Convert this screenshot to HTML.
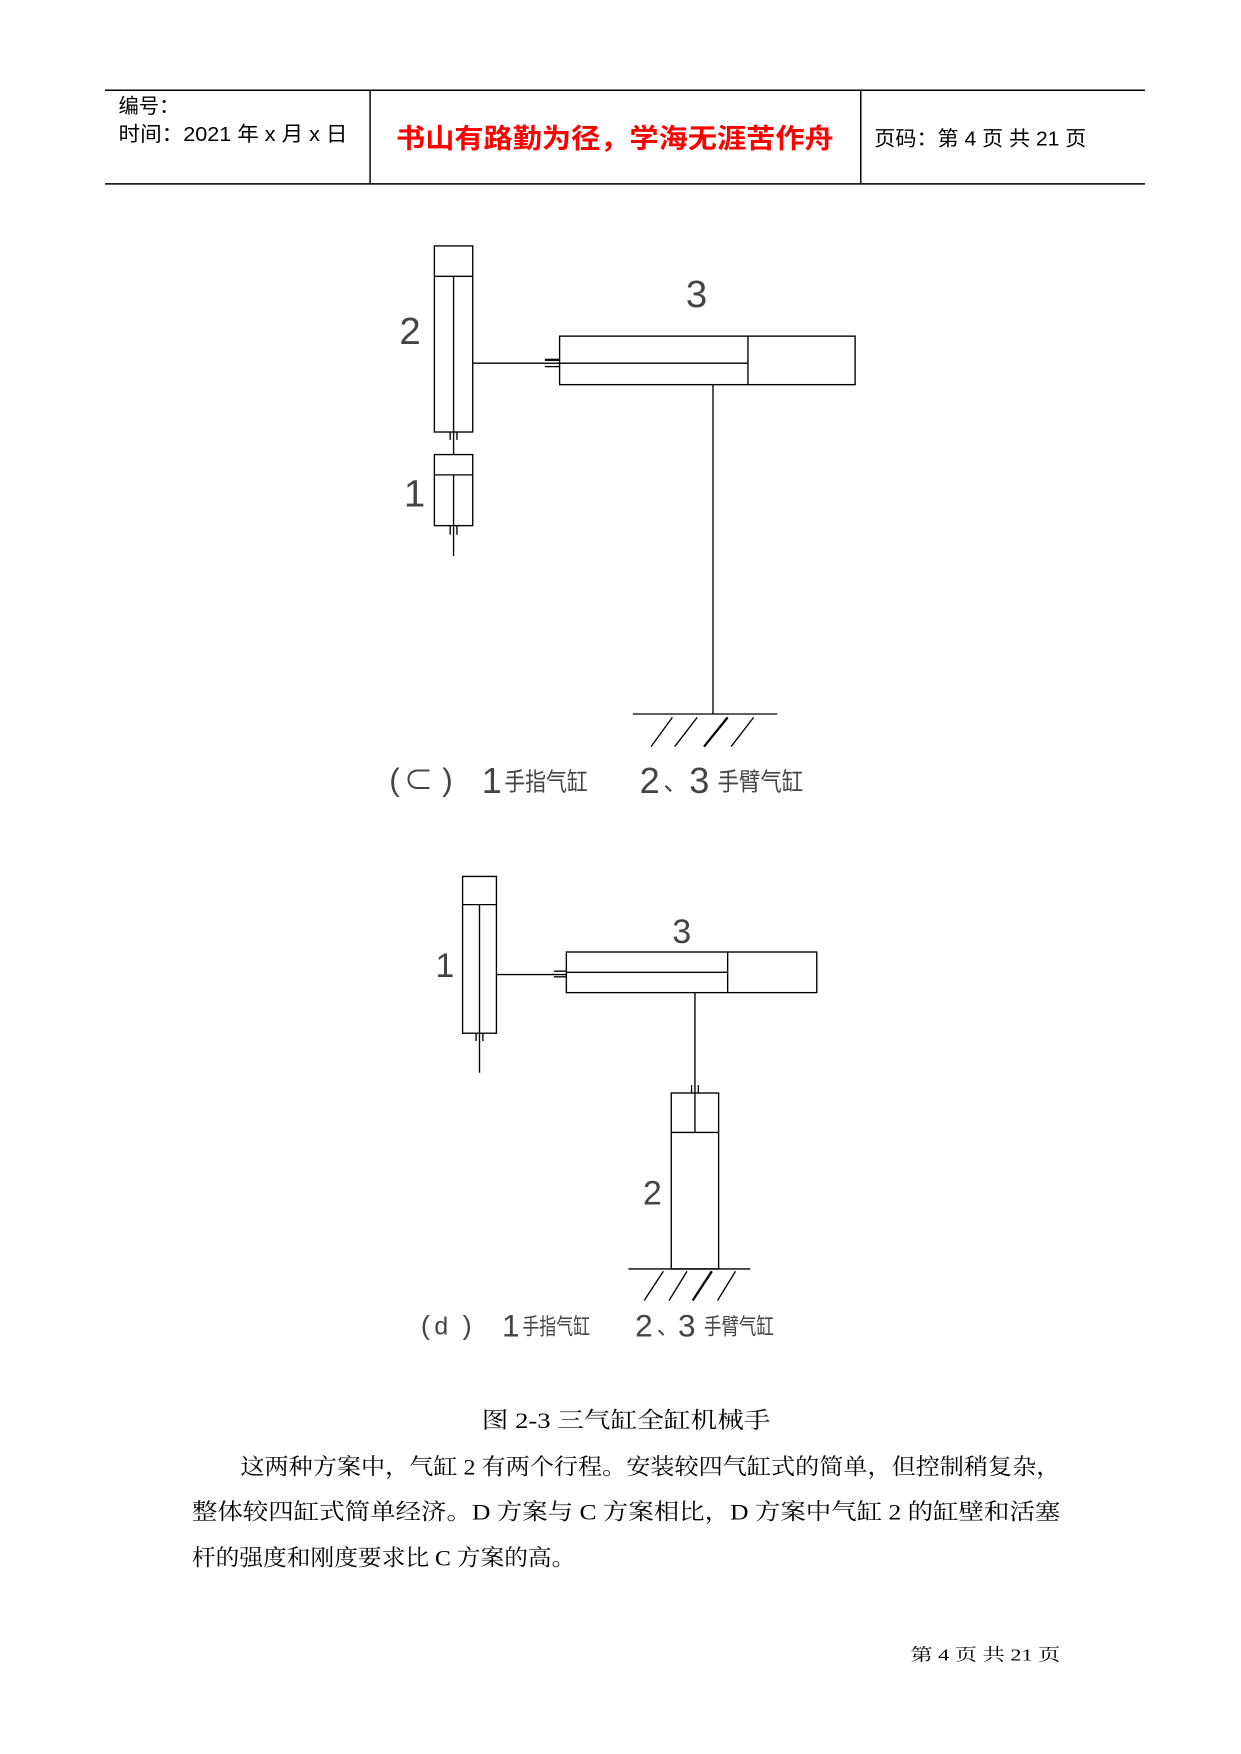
<!DOCTYPE html>
<html><head><meta charset="utf-8"><style>
html,body{margin:0;padding:0;background:#fff;}
svg{display:block;}
.s{font-family:"Liberation Serif","Noto Serif CJK SC",serif;}
.a{font-family:"Liberation Sans","Noto Sans CJK SC",sans-serif;}
</style></head><body>
<svg width="1241" height="1754" viewBox="0 0 1100 1555" xmlns="http://www.w3.org/2000/svg">
<g stroke="#000" stroke-width="1.3" fill="none">
<line x1="93" y1="80" x2="1015" y2="80"/>
<line x1="93" y1="163" x2="1015" y2="163"/>
<line x1="328" y1="80" x2="328" y2="163"/>
<line x1="763" y1="80" x2="763" y2="163"/>
</g>
<g class="a" font-size="18" fill="#000">
<text x="105" y="100">编号：</text>
<text x="105" y="125" textLength="203" lengthAdjust="spacingAndGlyphs">时间：2021 年 x 月 x 日</text>
<text x="775" y="129" textLength="188" lengthAdjust="spacingAndGlyphs">页码：第 4 页  共 21 页</text>
</g>
<text class="a" x="545" y="131" font-size="24" font-weight="bold" fill="#f00" text-anchor="middle" textLength="388" lengthAdjust="spacingAndGlyphs">书山有路勤为径，学海无涯苦作舟</text>

<!-- diagram c -->
<g stroke="#000" stroke-width="1.2" fill="none">
<rect x="385" y="218" width="34" height="165"/>
<line x1="385" y1="245" x2="419" y2="245"/>
<line x1="402" y1="245" x2="402" y2="403"/>
<line x1="399" y1="383" x2="399" y2="390"/><line x1="405" y1="383" x2="405" y2="390"/>
<rect x="385" y="403" width="34" height="63"/>
<line x1="385" y1="421" x2="419" y2="421"/>
<line x1="402" y1="421" x2="402" y2="493"/>
<line x1="399" y1="466" x2="399" y2="474"/><line x1="405" y1="466" x2="405" y2="474"/>
<line x1="419" y1="322" x2="496" y2="322"/>
<line x1="483" y1="319" x2="496" y2="319" stroke-width="2"/><line x1="483" y1="325" x2="496" y2="325"/>
<rect x="496" y="298" width="262" height="43"/>
<line x1="663" y1="298" x2="663" y2="341"/>
<line x1="496" y1="322" x2="663" y2="322"/>
<line x1="632" y1="341" x2="632" y2="633"/>
<line x1="561" y1="633" x2="689" y2="633"/>
<line x1="577" y1="662" x2="596" y2="636"/>
<line x1="598" y1="662" x2="618" y2="636"/>
<line x1="624" y1="662" x2="645" y2="636" stroke-width="2"/>
<line x1="648" y1="662" x2="668" y2="636"/>
</g>
<g class="a" fill="#444">
<text x="354" y="305" font-size="34">2</text>
<text x="608" y="272" font-size="34">3</text>
<text x="358" y="449" font-size="34">1</text>
<text x="345" y="701" font-size="28">(</text><text x="358" y="701" font-size="26">⊂</text><text x="392" y="701" font-size="28">)</text>
<text x="427" y="703" font-size="32">1</text>
<text x="447" y="701" font-size="22" textLength="74" lengthAdjust="spacingAndGlyphs">手指气缸</text>
<text x="567" y="703" font-size="32">2</text><text x="588" y="701" font-size="22">、</text><text x="611" y="703" font-size="32">3</text>
<text x="636" y="701" font-size="22" textLength="76" lengthAdjust="spacingAndGlyphs">手臂气缸</text>
</g>

<!-- diagram d -->
<g stroke="#000" stroke-width="1.2" fill="none">
<rect x="410" y="777" width="30" height="139"/>
<line x1="410" y1="802" x2="440" y2="802"/>
<line x1="425" y1="802" x2="425" y2="951"/>
<line x1="422" y1="916" x2="422" y2="923"/><line x1="428" y1="916" x2="428" y2="923"/>
<line x1="440" y1="864" x2="502" y2="864"/>
<line x1="491" y1="861" x2="502" y2="861"/><line x1="491" y1="866" x2="502" y2="866"/>
<rect x="502" y="844" width="222" height="36"/>
<line x1="645" y1="844" x2="645" y2="880"/>
<line x1="502" y1="862" x2="645" y2="862"/>
<line x1="616" y1="880" x2="616" y2="1004"/>
<line x1="613" y1="962" x2="613" y2="969"/><line x1="619" y1="962" x2="619" y2="969"/>
<rect x="595" y="969" width="42" height="156"/>
<line x1="595" y1="1004" x2="637" y2="1004"/>
<line x1="557" y1="1125" x2="665" y2="1125"/>
<line x1="571" y1="1153" x2="588" y2="1127"/>
<line x1="593" y1="1153" x2="609" y2="1127"/>
<line x1="614" y1="1153" x2="631" y2="1127" stroke-width="2"/>
<line x1="636" y1="1153" x2="652" y2="1127"/>
</g>
<g class="a" fill="#444">
<text x="386" y="866" font-size="30">1</text>
<text x="596" y="836" font-size="30">3</text>
<text x="570" y="1068" font-size="30">2</text>
<text x="373" y="1183" font-size="24">(</text><text x="385" y="1183" font-size="22">d</text><text x="410" y="1183" font-size="24">)</text>
<text x="445" y="1185" font-size="28">1</text>
<text x="463" y="1183" font-size="20" textLength="60" lengthAdjust="spacingAndGlyphs">手指气缸</text>
<text x="563" y="1185" font-size="28">2</text><text x="582" y="1183" font-size="20">、</text><text x="601" y="1185" font-size="28">3</text>
<text x="624" y="1183" font-size="20" textLength="62" lengthAdjust="spacingAndGlyphs">手臂气缸</text>
</g>

<g class="s" fill="#000" font-size="20">
<text x="427" y="1266" textLength="256" lengthAdjust="spacingAndGlyphs">图 2-3    三气缸全缸机械手</text>
<text x="213" y="1307" textLength="727" lengthAdjust="spacingAndGlyphs">这两种方案中，气缸 2 有两个行程。安装较四气缸式的简单，但控制稍复杂，</text>
<text x="170" y="1347" textLength="770" lengthAdjust="spacingAndGlyphs">整体较四缸式简单经济。D 方案与 C 方案相比，D 方案中气缸 2 的缸壁和活塞</text>
<text x="170" y="1388" textLength="340" lengthAdjust="spacingAndGlyphs">杆的强度和刚度要求比 C 方案的高。</text>
</g>
<text class="s" x="807" y="1472" font-size="15" textLength="133" lengthAdjust="spacingAndGlyphs">第 4 页 共 21 页</text>
</svg>
</body></html>
